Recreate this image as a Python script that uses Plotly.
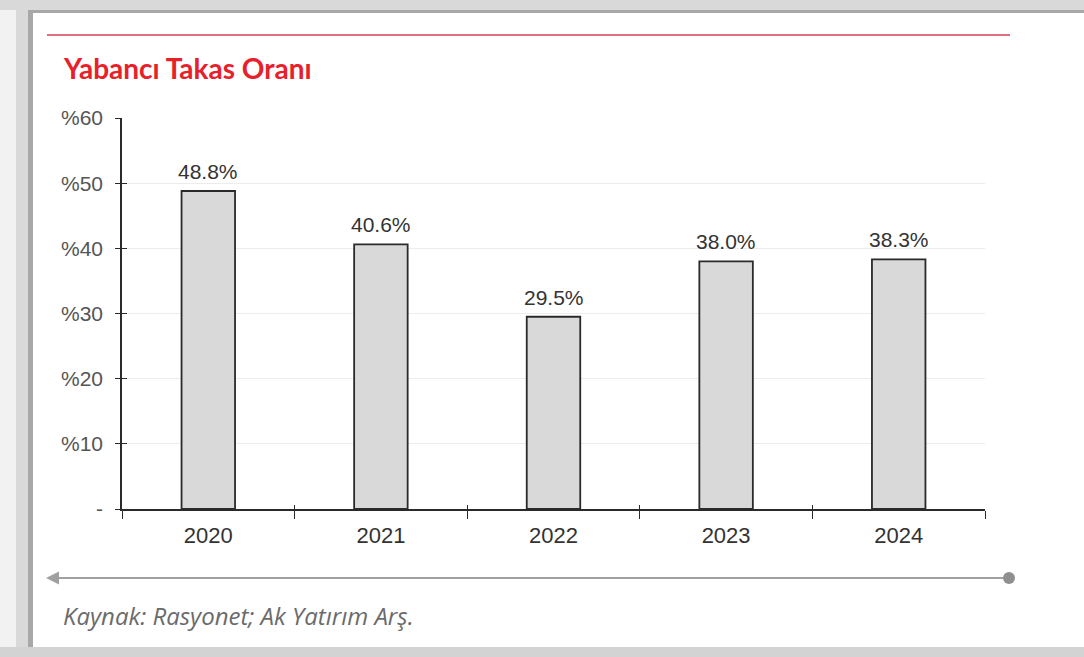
import plotly.graph_objects as go

years = ["2020", "2021", "2022", "2023", "2024"]
values = [48.8, 40.6, 29.5, 38.0, 38.3]
value_labels = ["48.8%", "40.6%", "29.5%", "38.0%", "38.3%"]
y_ticks = [0, 10, 20, 30, 40, 50, 60]
y_tick_labels = ["-", "%10", "%20", "%30", "%40", "%50", "%60"]

W, H = 1084, 657
L, R, T, B = 122, 985, 118, 509  # plot area in pixels

def px(x):
    return (x - L) / (R - L)

def py(y):
    return (B - y) / (B - T)

fig = go.Figure()
fig.add_trace(go.Bar(
    x=years, y=values,
    marker=dict(color="#d9d9d9", line=dict(color="#2a2a2a", width=1.8)),
    width=0.31, showlegend=False,
))
# invisible trace on overlay axes for crossing ticks
fig.add_trace(go.Scatter(x=years, y=values, xaxis="x2", yaxis="y2",
                         mode="markers", marker=dict(opacity=0), showlegend=False,
                         hoverinfo="skip"))

shapes = []
# frame decorations
shapes.append(dict(type="rect", xref="paper", yref="paper", x0=px(0), x1=px(W), y0=py(0), y1=py(10),
                   fillcolor="#d9d9d9", line=dict(width=0), layer="below"))
shapes.append(dict(type="rect", xref="paper", yref="paper", x0=px(28), x1=px(W), y0=py(10), y1=py(13),
                   fillcolor="#a8a8a8", line=dict(width=0), layer="below"))
shapes.append(dict(type="rect", xref="paper", yref="paper", x0=px(0), x1=px(16), y0=py(10), y1=py(H),
                   fillcolor="#f2f2f2", line=dict(width=0), layer="below"))
shapes.append(dict(type="rect", xref="paper", yref="paper", x0=px(16), x1=px(28), y0=py(10), y1=py(H),
                   fillcolor="#d9d9d9", line=dict(width=0), layer="below"))
shapes.append(dict(type="rect", xref="paper", yref="paper", x0=px(28), x1=px(33), y0=py(10), y1=py(647),
                   fillcolor="#a8a8a8", line=dict(width=0), layer="below"))
shapes.append(dict(type="rect", xref="paper", yref="paper", x0=px(0), x1=px(W), y0=py(647), y1=py(H),
                   fillcolor="#d3d3d3", line=dict(width=0), layer="below"))
# red rule under top
shapes.append(dict(type="line", xref="paper", yref="paper", x0=px(47), x1=px(1010), y0=py(35), y1=py(35),
                   line=dict(color="#e07080", width=2)))
# bottom grey rule with dot
shapes.append(dict(type="line", xref="paper", yref="paper", x0=px(52), x1=px(1008), y0=py(578), y1=py(578),
                   line=dict(color="#a0a0a0", width=2)))
shapes.append(dict(type="circle", xref="paper", yref="paper", x0=px(1003), x1=px(1015), y0=py(572), y1=py(584),
                   fillcolor="#8f8f8f", line=dict(width=0)))

annotations = [
    dict(text="<b>Yabancı Takas Oranı</b>", xref="paper", yref="paper", x=px(61), y=py(68),
         xanchor="left", yanchor="middle", showarrow=False,
         font=dict(family="Lato, Open Sans", size=28, color="#e8202a")),
    dict(text="<i>Kaynak: Rasyonet; Ak Yatırım Arş.</i>", xref="paper", yref="paper", x=px(61), y=py(615),
         xanchor="left", yanchor="middle", showarrow=False,
         font=dict(family="Open Sans", size=24, color="#6b6b6b")),
    dict(text="", xref="paper", yref="paper", x=px(46), y=py(578), ax=30, ay=0,
         showarrow=True, arrowhead=2, arrowsize=1.3, arrowwidth=2, arrowcolor="#a0a0a0"),
]
# value labels above bars, placed via data axes (category index)
for i, (v, lab) in enumerate(zip(values, value_labels)):
    annotations.append(dict(text=lab, x=i, y=v, xref="x", yref="y", showarrow=False,
                            xanchor="center", yanchor="bottom", yshift=6,
                            font=dict(family="Arial, Liberation Sans", size=21, color="#333333")))

fig.update_layout(
    width=W, height=H,
    margin=dict(l=L, r=W - R, t=T, b=H - B),
    paper_bgcolor="white", plot_bgcolor="white",
    shapes=shapes, annotations=annotations,
    bargap=0.69,
    xaxis=dict(type="category", showline=True, linecolor="#2a2a2a", linewidth=1.5,
               ticks="outside", tickson="boundaries", ticklen=8, tickcolor="#2a2a2a", tickwidth=1.2,
               tickfont=dict(family="Arial, Liberation Sans", size=22, color="#333333"),
               ticklabelstandoff=6,
               showgrid=False, range=[-0.5, 4.5]),
    yaxis=dict(range=[0, 60], tickvals=y_ticks, ticktext=y_tick_labels,
               showline=True, linecolor="#2a2a2a", linewidth=1.5,
               ticks="outside", ticklen=5, tickcolor="#2a2a2a", tickwidth=1.2,
               tickfont=dict(family="Arial, Liberation Sans", size=21, color="#555555"),
               ticklabelstandoff=8,
               showgrid=True, gridcolor="#ececec", gridwidth=1, zeroline=False),
    xaxis2=dict(type="category", overlaying="x", matches="x", ticks="inside", tickson="boundaries",
                ticklen=4, tickcolor="#2a2a2a", tickwidth=1.2, showticklabels=False,
                showgrid=False, showline=False, side="bottom", anchor="y2"),
    yaxis2=dict(overlaying="y", matches="y", ticks="inside", ticklen=5, tickvals=y_ticks,
                tickcolor="#2a2a2a", tickwidth=1.2, showticklabels=False, showgrid=False,
                showline=False, zeroline=False, side="left", anchor="x2"),
)

fig.write_html("out.html")
